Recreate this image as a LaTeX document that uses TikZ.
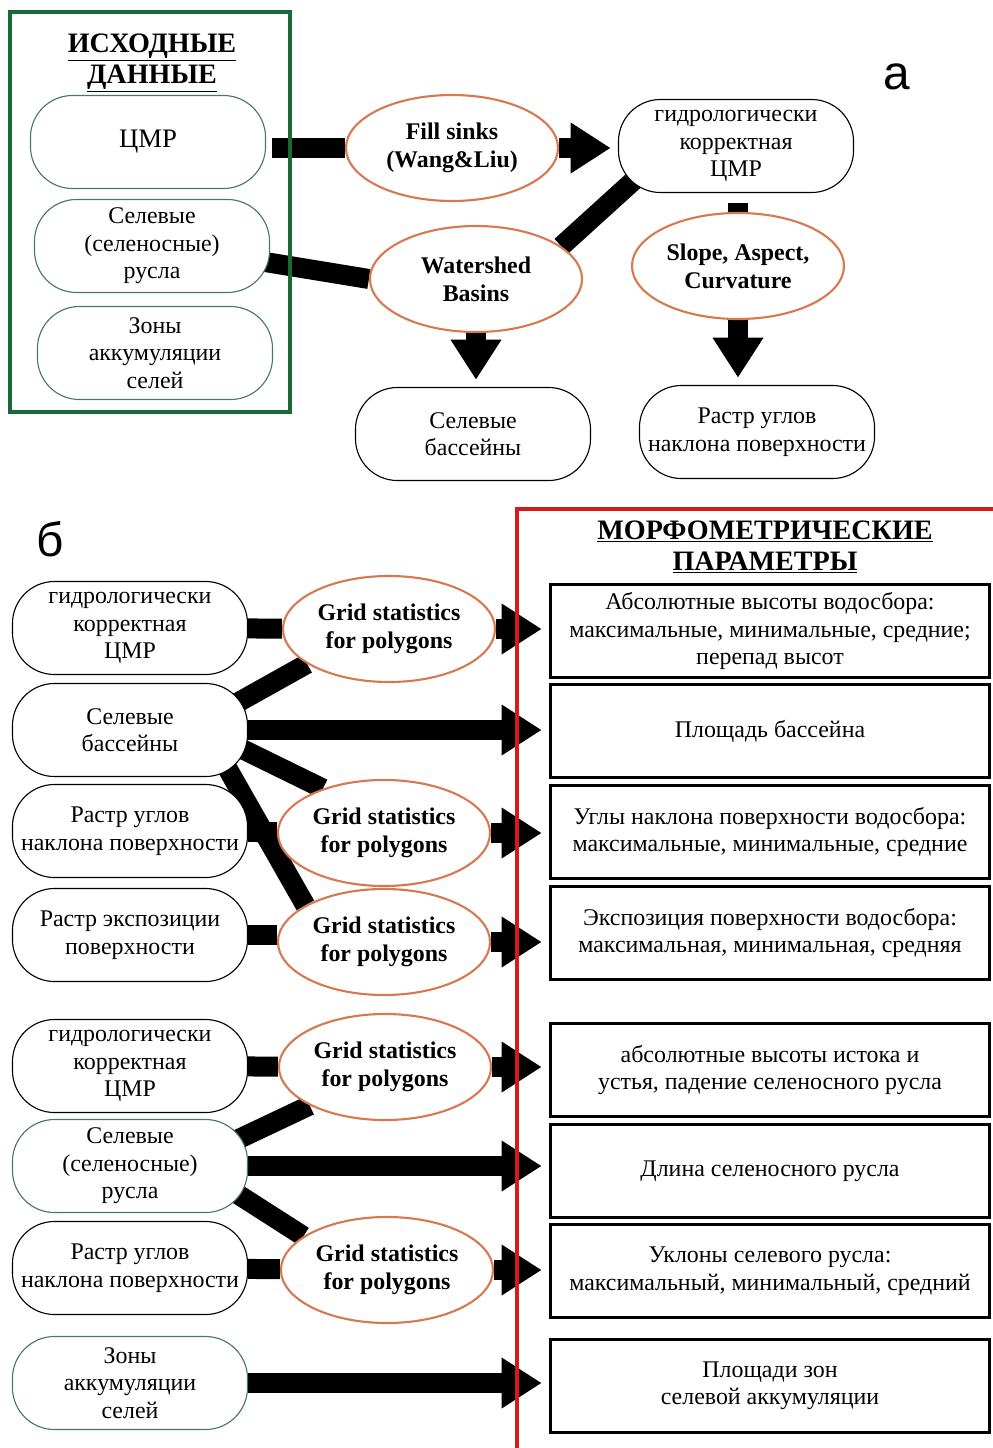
\documentclass[tikz,border=0pt]{standalone}
\usepackage{fontspec}
\setmainfont{Liberation Serif}
\newfontfamily\labelfont{Liberation Sans}
\usetikzlibrary{shapes.geometric,arrows.meta,backgrounds}

\definecolor{framegreen}{RGB}{25,105,55}
\definecolor{stadgreen}{RGB}{70,120,100}
\definecolor{ellorange}{RGB}{215,120,80}
\definecolor{framered}{RGB}{215,25,30}

\begin{document}
\begin{tikzpicture}[x=0.025cm,y=-0.025cm,
    datanode/.style={draw=black,line width=0.8pt,fill=white,rounded corners=1.05cm,
      minimum width=5.875cm,minimum height=2.325cm,inner sep=0pt,align=center,
      font=\fontsize{17}{19.5}\selectfont},
    greennode/.style={datanode,draw=stadgreen},
    toolnode/.style={ellipse,draw=ellorange,line width=1.5pt,fill=white,
      minimum width=5.3cm,minimum height=2.65cm,inner sep=0pt,align=center,
      font=\bfseries\fontsize{17}{20}\selectfont},
    parambox/.style={rectangle,draw=black,line width=2.2pt,fill=white,
      minimum width=10.975cm,minimum height=2.325cm,inner sep=0pt,align=center,
      font=\fontsize{17}{19.5}\selectfont},
    titletext/.style={align=center,font=\bfseries\fontsize{20}{22.5}\selectfont},
    bar/.style={line width=0.5cm},
    arr/.style={line width=0.5cm,-{Triangle[length=1cm,width=1.2cm]},shorten >=0.18cm}]
  \useasboundingbox (0,0) rectangle (993,1448);

  % Part a: source data
  \node[titletext] (srctitle) at (152,63) {\underline{ИСХОДНЫЕ}\\\underline{ДАННЫЕ}};
  \node[greennode] (cmr) at (148,142) {\fontsize{19}{21}\selectfont ЦМР};
  \node[greennode] (rusla) at (152,246) {Селевые\\(селеносные)\\русла};
  \node[greennode] (zony) at (155,353) {Зоны\\аккумуляции\\селей};

  % Part a: tools and results
  \node[toolnode] (fill) at (452,148) {Fill sinks\\(Wang\&Liu)};
  \node[toolnode] (ws) at (476,279) {Watershed\\Basins};
  \node[datanode] (hcmr) at (736,146) {гидрологически\\корректная\\ЦМР};
  \node[toolnode] (slope) at (738,266) {Slope, Aspect,\\Curvature};
  \node[datanode] (bass) at (473,434) {Селевые\\бассейны};
  \node[datanode] (rastr) at (757,432) {Растр углов\\наклона поверхности};
  \node[font=\labelfont\fontsize{34}{34}\selectfont] (lbla) at (897,77) {а};

  % Part b: inputs
  \node[font=\labelfont\fontsize{34}{34}\selectfont] (lblb) at (50,539) {б};
  \node[datanode] (l1) at (130,628) {гидрологически\\корректная\\ЦМР};
  \node[datanode] (l2) at (130,730) {Селевые\\бассейны};
  \node[datanode] (l3) at (130,831) {Растр углов\\наклона поверхности};
  \node[datanode] (l4) at (130,935) {Растр экспозиции\\поверхности};
  \node[datanode] (l5) at (130,1066) {гидрологически\\корректная\\ЦМР};
  \node[greennode] (l6) at (130,1166) {Селевые\\(селеносные)\\русла};
  \node[datanode] (l7) at (130,1268) {Растр углов\\наклона поверхности};
  \node[greennode] (l8) at (130,1383) {Зоны\\аккумуляции\\селей};

  % Part b: grid statistics
  \node[toolnode] (g1) at (389,629) {Grid statistics\\for polygons};
  \node[toolnode] (g2) at (384,833) {Grid statistics\\for polygons};
  \node[toolnode] (g3) at (384,942) {Grid statistics\\for polygons};
  \node[toolnode] (g4) at (385,1067) {Grid statistics\\for polygons};
  \node[toolnode] (g5) at (387,1270) {Grid statistics\\for polygons};

  % Part b: morphometric parameters
  \node[titletext] (mtitle) at (765,547) {\underline{МОРФОМЕТРИЧЕСКИЕ}\\\underline{ПАРАМЕТРЫ}};
  \node[parambox] (p1) at (770,631) {Абсолютные высоты водосбора:\\максимальные, минимальные, средние;\\перепад высот};
  \node[parambox] (p2) at (770,731) {Площадь бассейна};
  \node[parambox] (p3) at (770,832) {Углы наклона поверхности водосбора:\\максимальные, минимальные, средние};
  \node[parambox] (p4) at (770,933) {Экспозиция поверхности водосбора:\\максимальная, минимальная, средняя};
  \node[parambox] (p5) at (770,1070) {абсолютные высоты истока и\\устья, падение селеносного русла};
  \node[parambox] (p6) at (770,1171) {Длина селеносного русла};
  \node[parambox] (p7) at (770,1271) {Уклоны селевого русла:\\максимальный, минимальный, средний};
  \node[parambox] (p8) at (770,1386) {Площади зон\\селевой аккумуляции};

  \begin{scope}[on background layer]
    % Part a connectors
    \draw[bar,shorten <=0.15cm] (cmr.east |- fill.west) -- (fill.west);
    \draw[arr] (fill.east) -- (fill.east -| hcmr.west);
    \draw[bar] ([shift={(-5,16)}]rusla.east) -- (ws.west);
    \draw[bar] ([shift={(24,-20)}]hcmr.south west) -- (ws.21);
    \draw[bar,shorten <=0.25cm] (hcmr.south -| slope.north) -- (slope.north);
    \draw[arr] (ws.south) -- (ws.south |- bass.north);
    \draw[arr] (slope.south) -- (slope.south |- rastr.north);

    % Part b connectors, basins
    \draw[bar] (l1) -- (g1);
    \draw[bar] ([shift={(-20,25)}]l2.north east) -- (g1.203);
    \draw[arr] (l2) -- (l2 -| p2.west);
    \draw[bar] ([shift={(-12,-31)}]l2.south east) -- (g2.144);
    \draw[bar] ([shift={(-22,-11)}]l2.south east) -- (g3.155);
    \draw[bar] (l3) -- (g2);
    \draw[bar] (l4) -- (l4 -| g3.west);
    \draw[arr] (g1) -- (g1 -| p1.west);
    \draw[arr] (g2) -- (g2 -| p3.west);
    \draw[arr] (g3) -- (g3 -| p4.west);

    % Part b connectors, channels
    \draw[bar] (l5) -- (g4);
    \draw[bar] ([shift={(-20,-22)}]l6.east) -- (g4.207);
    \draw[arr] (l6) -- (l6 -| p6.west);
    \draw[bar] ([shift={(-20,22)}]l6.east) -- (g5.158);
    \draw[bar] (l7) -- (g5);
    \draw[arr] (g4) -- (g4 -| p5.west);
    \draw[arr] (g5) -- (g5 -| p7.west);
    \draw[arr] (l8) -- (l8 -| p8.west);
  \end{scope}

  % Frames
  \draw[framegreen,line width=3.5pt] (10,12) rectangle (290,412);
  \draw[framered,line width=3.5pt] (517,1448) -- (517,509) -- (993,509);
\end{tikzpicture}
\end{document}
